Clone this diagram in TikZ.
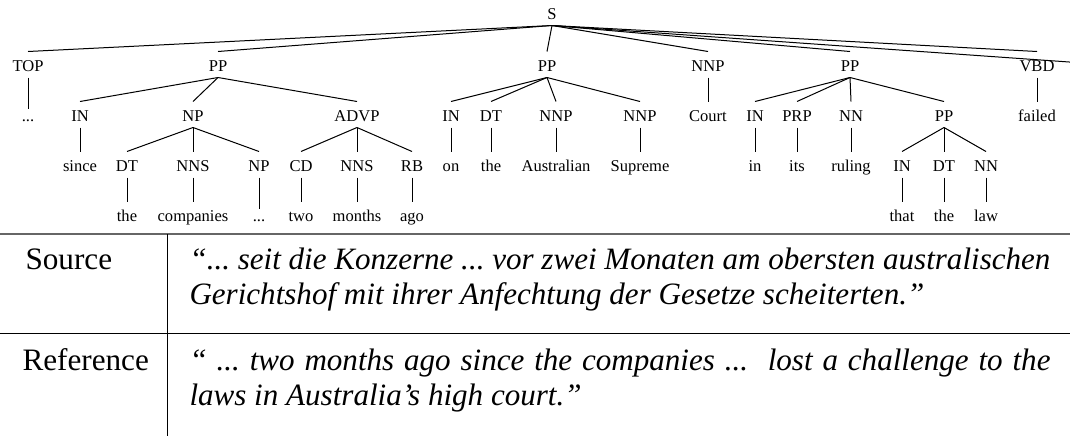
\documentclass[tikz,border=0pt]{standalone}
\usepackage{fontspec}
\setmainfont{Liberation Serif}
\newcommand{\treefont}{\fontsize{12.4pt}{14pt}\selectfont}
\newcommand{\tabfont}{\fontsize{23.4pt}{28pt}\selectfont}
\newcommand{\quotefont}{\fontsize{23.3pt}{28pt}\selectfont\itshape\frenchspacing}
\begin{document}
\begin{tikzpicture}[x=0.75pt,y=-0.75pt,line width=0.75pt,
  tn/.style={anchor=base,font=\treefont,inner xsep=0pt,inner ysep=4.5pt,text height=9.75pt,text depth=0pt},
  dotn/.style={tn,text height=4.5pt},
  tline/.style={draw=black,line width=0.75pt},
  tabtxt/.style={anchor=base west,font=\tabfont,inner sep=0pt},
  quotetxt/.style={anchor=base west,font=\quotefont,inner sep=0pt},
  toprule/.style={draw=black!60,line width=1.1pt},
  midrule/.style={draw=black,line width=0.75pt}]
\useasboundingbox (0,0) rectangle (1070,436);
% level 0
\node[tn] (S) at (552,19) {S};
% level 1
\node[tn] (TOP) at (28,71) {TOP};
\node[tn] (PPa) at (218,71) {PP};
\node[tn] (PPb) at (547,71) {PP};
\node[tn] (NNPa) at (708,71) {NNP};
\node[tn] (PPc) at (850,71) {PP};
\node[tn] (VBD) at (1037,71) {VBD};
% level 2
\node[dotn] (dotsA) at (28,121) {...};
\node[tn] (INa) at (80,121) {IN};
\node[tn] (NPa) at (193,121) {NP};
\node[tn] (ADVP) at (357,121) {ADVP};
\node[tn] (INb) at (451,121) {IN};
\node[tn] (DTb) at (491,121) {DT};
\node[tn] (NNPb) at (556,121) {NNP};
\node[tn] (NNPc) at (640,121) {NNP};
\node[tn] (Court) at (708,121) {Court};
\node[tn] (INc) at (755,121) {IN};
\node[tn] (PRP) at (797,121) {PRP};
\node[tn] (NNc) at (851,121) {NN};
\node[tn] (PPd) at (944,121) {PP};
\node[tn] (failed) at (1037,121) {failed};
% level 3
\node[tn] (since) at (80,171) {since};
\node[tn] (DTa) at (127,171) {DT};
\node[tn] (NNSa) at (193,171) {NNS};
\node[tn] (NPb) at (259,171) {NP};
\node[tn] (CD) at (301,171) {CD};
\node[tn] (NNSb) at (357,171) {NNS};
\node[tn] (RB) at (412,171) {RB};
\node[tn] (on) at (451,171) {on};
\node[tn] (theb) at (491,171) {the};
\node[tn] (Australian) at (556,171) {Australian};
\node[tn] (Supreme) at (640,171) {Supreme};
\node[tn] (in) at (755,171) {in};
\node[tn] (its) at (797,171) {its};
\node[tn] (ruling) at (851,171) {ruling};
\node[tn] (INd) at (902,171) {IN};
\node[tn] (DTd) at (944,171) {DT};
\node[tn] (NNd) at (986,171) {NN};
% level 4
\node[tn] (thea) at (127,221) {the};
\node[tn] (companies) at (193,221) {companies};
\node[dotn] (dotsB) at (259,221) {...};
\node[tn] (two) at (301,221) {two};
\node[tn] (months) at (357,221) {months};
\node[tn] (ago) at (412,221) {ago};
\node[tn] (that) at (902,221) {that};
\node[tn] (thed) at (944,221) {the};
\node[tn] (law) at (986,221) {law};
% edges
\foreach \p/\c in {S/TOP,S/PPa,S/PPb,S/NNPa,S/PPc,S/VBD,
  TOP/dotsA,PPa/INa,PPa/NPa,PPa/ADVP,INa/since,
  NPa/DTa,NPa/NNSa,NPa/NPb,DTa/thea,NNSa/companies,NPb/dotsB,
  ADVP/CD,ADVP/NNSb,ADVP/RB,CD/two,NNSb/months,RB/ago,
  PPb/INb,PPb/DTb,PPb/NNPb,PPb/NNPc,INb/on,DTb/theb,NNPb/Australian,NNPc/Supreme,
  NNPa/Court,
  PPc/INc,PPc/PRP,PPc/NNc,PPc/PPd,INc/in,PRP/its,NNc/ruling,
  PPd/INd,PPd/DTd,PPd/NNd,INd/that,DTd/thed,NNd/law,
  VBD/failed}
  \draw[tline] (\p.south) -- (\c.north);
\begin{scope}
  \clip (0,0) rectangle (1070,436);
  \coordinate (cut) at (1150,67.7);
  \draw[tline] (S.south) -- (cut);
\end{scope}
% table
\draw[toprule] (0,234) -- (1070,234);
\draw[midrule] (0,333) -- (1070,333);
\draw[midrule] (167,234) -- (167,436);
\node[tabtxt] (src) at (25,269) {Source};
\node[quotetxt] (srcA) at (189,269) {\makebox[645.75pt][s]{“... seit die Konzerne ... vor zwei Monaten am obersten australischen}};
\node[quotetxt] (srcB) at (189,304) {Gerichtshof mit ihrer Anfechtung der Gesetze scheiterten.”};
\node[tabtxt] (ref) at (22,370) {Reference};
\node[quotetxt] (refA) at (189,370) {\makebox[645.75pt][s]{“ ... two months ago since the companies ... \ lost a challenge to the}};
\node[quotetxt] (refB) at (189,405) {laws in Australia’s high court.”};
\end{tikzpicture}
\end{document}
